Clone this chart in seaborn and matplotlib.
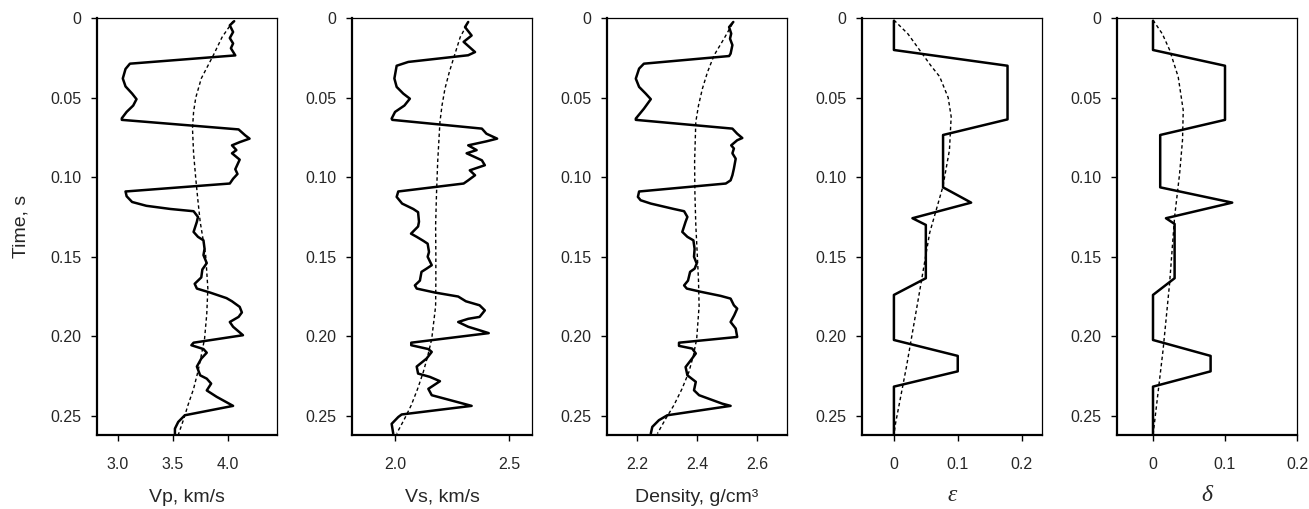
import matplotlib
matplotlib.use("Agg")
import matplotlib.pyplot as plt
import seaborn as sns

# --- well log curves (time in s) ---
t_vp = [0.002, 0.0046, 0.0088, 0.0126, 0.016, 0.019, 0.0235, 0.0287, 0.032, 0.038,
        0.043, 0.0475, 0.051, 0.055, 0.059, 0.063, 0.064, 0.070, 0.0737, 0.0758,
        0.078, 0.080, 0.083, 0.085, 0.089, 0.095, 0.098, 0.101, 0.104, 0.109,
        0.112, 0.1156, 0.118, 0.120, 0.1214, 0.125, 0.128, 0.1344, 0.1375, 0.1397,
        0.145, 0.149, 0.154, 0.158, 0.163, 0.167, 0.170, 0.1725, 0.176, 0.178,
        0.1815, 0.185, 0.1878, 0.191, 0.194, 0.1993, 0.204, 0.2056, 0.208, 0.2103,
        0.214, 0.219, 0.2245, 0.2266, 0.2297, 0.234, 0.238, 0.2437, 0.2496, 0.2538,
        0.258, 0.262]
vp = [4.06, 4.02, 4.05, 4.02, 4.05, 4.03, 4.07, 3.11, 3.07, 3.045,
      3.07, 3.13, 3.17, 3.14, 3.08, 3.036, 3.036, 4.10, 4.16, 4.20,
      4.11, 4.04, 4.08, 4.04, 4.11, 4.07, 4.09, 4.05, 4.02, 3.07,
      3.08, 3.13, 3.26, 3.48, 3.69, 3.73, 3.72, 3.69, 3.73, 3.78,
      3.79, 3.78, 3.81, 3.77, 3.76, 3.70, 3.72, 3.84, 3.99, 4.04,
      4.11, 4.13, 4.10, 4.02, 4.05, 4.14, 3.69, 3.67, 3.78, 3.81,
      3.76, 3.72, 3.75, 3.81, 3.85, 3.81, 3.90, 4.05, 3.61, 3.55,
      3.52, 3.52]
t_vp_trend = [0.002, 0.012, 0.0234, 0.038, 0.05, 0.059, 0.0695, 0.085, 0.101, 0.115,
              0.128, 0.149, 0.17, 0.186, 0.2015, 0.212, 0.222, 0.233, 0.243, 0.252, 0.262]
vp_trend = [4.05, 3.95, 3.87, 3.76, 3.71, 3.69, 3.68, 3.69, 3.71, 3.73,
            3.75, 3.80, 3.82, 3.81, 3.79, 3.76, 3.73, 3.69, 3.64, 3.60, 3.55]

t_vs = [0.0025, 0.0057, 0.011, 0.015, 0.0214, 0.0234, 0.0276, 0.030, 0.038, 0.0433,
        0.0475, 0.0507, 0.055, 0.059, 0.0632, 0.064, 0.0695, 0.0727, 0.0758, 0.0775,
        0.080, 0.083, 0.085, 0.0894, 0.0925, 0.0957, 0.0988, 0.102, 0.104, 0.109,
        0.1124, 0.1166, 0.120, 0.122, 0.128, 0.131, 0.1355, 0.1375, 0.140, 0.1418,
        0.147, 0.150, 0.1553, 0.1575, 0.1595, 0.165, 0.168, 0.170, 0.1725, 0.175,
        0.178, 0.1805, 0.1837, 0.1878, 0.189, 0.191, 0.194, 0.1962, 0.198, 0.204,
        0.2056, 0.208, 0.2098, 0.214, 0.219, 0.2234, 0.2255, 0.2282, 0.233, 0.237,
        0.2437, 0.2491, 0.2507, 0.255, 0.2611]
vs = [2.32, 2.306, 2.335, 2.30, 2.35, 2.32, 2.057, 2.006, 1.996, 2.006,
      2.035, 2.064, 2.04, 1.999, 1.984, 1.987, 2.38, 2.40, 2.447, 2.40,
      2.32, 2.357, 2.313, 2.38, 2.393, 2.327, 2.35, 2.32, 2.30, 2.013,
      2.006, 2.03, 2.079, 2.10, 2.104, 2.10, 2.069, 2.094, 2.123, 2.142,
      2.148, 2.142, 2.16, 2.137, 2.115, 2.108, 2.086, 2.094, 2.174, 2.276,
      2.31, 2.37, 2.393, 2.37, 2.32, 2.276, 2.32, 2.37, 2.41, 2.07,
      2.07, 2.145, 2.16, 2.137, 2.094, 2.10, 2.152, 2.196, 2.145, 2.16,
      2.335, 2.028, 2.013, 1.984, 1.991]
t_vs_trend = [0.0046, 0.012, 0.0234, 0.034, 0.0444, 0.055, 0.0653, 0.0905, 0.110, 0.130,
              0.149, 0.165, 0.181, 0.2015, 0.212, 0.2224, 0.233, 0.2433, 0.252, 0.2611]
vs_trend = [2.313, 2.285, 2.26, 2.237, 2.218, 2.205, 2.196, 2.186, 2.181, 2.177,
            2.178, 2.178, 2.177, 2.16, 2.143, 2.123, 2.098, 2.07, 2.04, 2.006]

t_rho = [0.0025, 0.0057, 0.0098, 0.013, 0.017, 0.0224, 0.0239, 0.0287, 0.0318, 0.0381,
         0.0433, 0.0475, 0.051, 0.057, 0.0632, 0.064, 0.0695, 0.0727, 0.0754, 0.0768,
         0.080, 0.082, 0.085, 0.0884, 0.0946, 0.0988, 0.102, 0.104, 0.109, 0.1124,
         0.1145, 0.1166, 0.120, 0.1214, 0.125, 0.128, 0.1344, 0.1375, 0.1397, 0.145,
         0.150, 0.1543, 0.1575, 0.1595, 0.165, 0.168, 0.170, 0.172, 0.1746, 0.1763,
         0.1805, 0.1826, 0.1868, 0.191, 0.1951, 0.2004, 0.204, 0.206, 0.2077, 0.2108,
         0.2151, 0.2193, 0.2245, 0.2286, 0.2339, 0.237, 0.2423, 0.2437, 0.2496, 0.2527,
         0.2569, 0.2611]
rho = [2.521, 2.507, 2.514, 2.51, 2.518, 2.512, 2.507, 2.223, 2.207, 2.196,
       2.207, 2.229, 2.246, 2.223, 2.196, 2.196, 2.518, 2.534, 2.551, 2.534,
       2.514, 2.523, 2.518, 2.529, 2.523, 2.518, 2.512, 2.496, 2.207, 2.203,
       2.212, 2.246, 2.323, 2.357, 2.368, 2.362, 2.351, 2.368, 2.388, 2.392,
       2.39, 2.399, 2.392, 2.377, 2.37, 2.357, 2.366, 2.412, 2.479, 2.512,
       2.523, 2.534, 2.524, 2.512, 2.529, 2.534, 2.34, 2.34, 2.384, 2.396,
       2.379, 2.362, 2.368, 2.396, 2.39, 2.407, 2.484, 2.512, 2.301, 2.273,
       2.251, 2.246]
t_rho_trend = [0.0036, 0.013, 0.0234, 0.034, 0.0444, 0.055, 0.0653, 0.0905, 0.110, 0.130,
               0.149, 0.165, 0.181, 0.2015, 0.212, 0.2224, 0.233, 0.2433, 0.252, 0.2611]
rho_trend = [2.518, 2.49, 2.457, 2.435, 2.418, 2.405, 2.396, 2.392, 2.393, 2.396,
             2.401, 2.405, 2.407, 2.399, 2.388, 2.373, 2.35, 2.323, 2.295, 2.268]

t_eps = [0.0017, 0.0201, 0.030, 0.0637, 0.0735, 0.1064, 0.116, 0.1258, 0.130, 0.1635,
         0.174, 0.2023, 0.2123, 0.222, 0.2316, 0.262]
eps = [0, 0, 0.178, 0.178, 0.077, 0.077, 0.121, 0.029, 0.05, 0.05,
       0, 0, 0.1, 0.1, 0, 0]
t_eps_trend = [0.0013, 0.010, 0.020, 0.030, 0.0368, 0.050, 0.062, 0.083, 0.106, 0.135,
               0.177, 0.219, 0.2546, 0.262]
eps_trend = [0.0, 0.022, 0.04, 0.058, 0.0716, 0.085, 0.0897, 0.087, 0.0767, 0.056,
             0.038, 0.0197, 0.0026, 0.0]

t_del = [0.0017, 0.0201, 0.030, 0.064, 0.0735, 0.1064, 0.116, 0.1258, 0.1294, 0.1635,
         0.174, 0.2023, 0.2123, 0.222, 0.2316, 0.262]
dlt = [0, 0, 0.1, 0.1, 0.01, 0.01, 0.11, 0.018, 0.03, 0.03,
       0, 0, 0.08, 0.08, 0, 0]
t_del_trend = [0.0013, 0.010, 0.020, 0.037, 0.058, 0.0766, 0.0976, 0.125, 0.167, 0.2085,
               0.2546, 0.262]
del_trend = [0.0, 0.013, 0.023, 0.035, 0.042, 0.041, 0.037, 0.030, 0.023, 0.014,
             0.002, 0.0]

xlabels = ["Vp, km/s", "Vs, km/s", "Density, g/cm³", "ε", "δ"]
xlims = [(2.81, 4.45), (1.81, 2.60), (2.10, 2.70), (-0.05, 0.232), (-0.05, 0.2)]
xticks = [[3.0, 3.5, 4.0], [2.0, 2.5], [2.2, 2.4, 2.6], [0, 0.1, 0.2], [0, 0.1, 0.2]]
xticklabels = [["3.0", "3.5", "4.0"], ["2.0", "2.5"], ["2.2", "2.4", "2.6"],
               ["0", "0.1", "0.2"], ["0", "0.1", "0.2"]]
yticks = [0, 0.05, 0.10, 0.15, 0.20, 0.25]
yticklabels = ["0", "0.05", "0.10", "0.15", "0.20", "0.25"]

sns.set_style("ticks")
plt.rcParams["font.family"] = ["Liberation Sans", "DejaVu Sans"]

fig = plt.figure(figsize=(13.09, 5.09), dpi=100)
W, H = 1309, 509
lefts = [97, 352, 607, 862, 1117]
top, bottom, width = 18, 435, 180

curves = [(vp, t_vp, vp_trend, t_vp_trend),
          (vs, t_vs, vs_trend, t_vs_trend),
          (rho, t_rho, rho_trend, t_rho_trend),
          (eps, t_eps, eps_trend, t_eps_trend),
          (dlt, t_del, del_trend, t_del_trend)]

for i, (x, t, xtr, ttr) in enumerate(curves):
    ax = fig.add_axes([lefts[i] / W, 1 - bottom / H, width / W, (bottom - top) / H])
    sns.lineplot(x=xtr, y=ttr, sort=False, estimator=None, color="black",
                 lw=1.0, ax=ax).lines[-1].set_dashes((2.5, 2))
    sns.lineplot(x=x, y=t, sort=False, estimator=None, color="black",
                 lw=1.8, ax=ax)
    ax.set_xlim(*xlims[i])
    ax.set_ylim(0.262, 0)
    ax.set_xticks(xticks[i])
    ax.set_xticklabels(xticklabels[i])
    ax.set_yticks(yticks)
    ax.set_yticklabels(yticklabels)
    ax.tick_params(labelsize=11.5, length=4, width=1, color="black")
    ax.tick_params(axis="x", pad=12)
    ax.tick_params(axis="y", pad=7)
    for side in ["left", "bottom"]:
        ax.spines[side].set_linewidth(1.6)
    for side in ["top", "right"]:
        ax.spines[side].set_linewidth(0.9)
    for s in ax.spines.values():
        s.set_color("black")
    if i >= 3:
        ax.set_xlabel(xlabels[i], fontsize=17, family=["Liberation Serif"],
                      style="italic", labelpad=9)
    else:
        ax.set_xlabel(xlabels[i], fontsize=14, labelpad=12)
    if i == 0:
        ax.set_ylabel("Time, s", fontsize=14, labelpad=15)
    else:
        ax.set_ylabel("")

fig.savefig("out.png", dpi=100)
